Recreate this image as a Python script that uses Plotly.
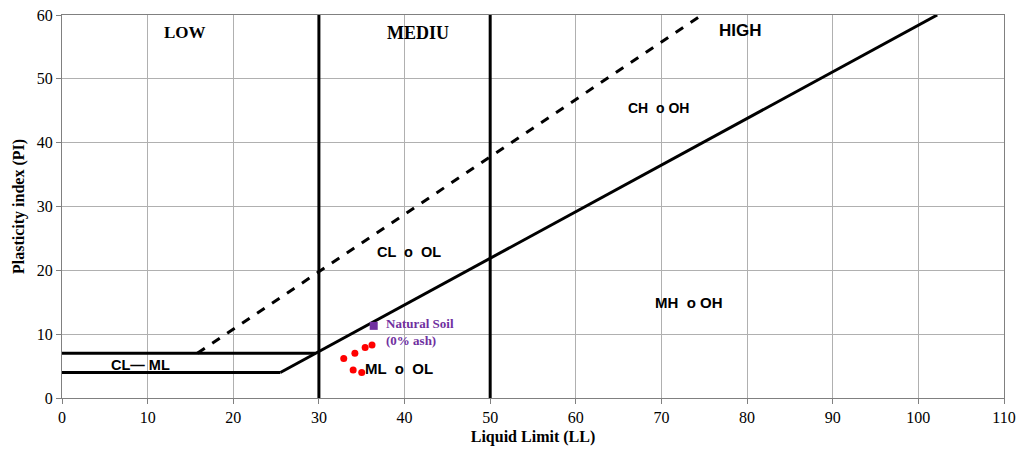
import plotly.graph_objects as go

# Classification lines
a_line_x = [25.5, 102.2]
a_line_y = [4, 60]
u_line_x = [15.8, 74.7]
u_line_y = [7, 60]
h4_x = [0, 25.5]
h4_y = [4, 4]
h7_x = [0, 29.6]
h7_y = [7, 7]
v30_x = [30, 30]
v50_x = [50, 50]
v_y = [0, 60]

# Samples
samples_ll = [32.9, 34.2, 35.4, 36.2, 34.0, 35.0]
samples_pi = [6.2, 7.0, 7.9, 8.3, 4.4, 4.0]
natural_ll = [36.4]
natural_pi = [11.3]

x_ticks = list(range(0, 111, 10))
y_ticks = list(range(0, 61, 10))

fig = go.Figure()
for xs, ys, dash in [(a_line_x, a_line_y, "solid"), (u_line_x, u_line_y, "dash"),
                     (h4_x, h4_y, "solid"), (h7_x, h7_y, "solid"),
                     (v30_x, v_y, "solid"), (v50_x, v_y, "solid")]:
    fig.add_trace(go.Scatter(x=xs, y=ys, mode="lines",
                             line=dict(color="black", width=3, dash=dash),
                             showlegend=False, hoverinfo="skip"))

fig.add_trace(go.Scatter(x=samples_ll, y=samples_pi, mode="markers",
                         marker=dict(color="red", size=7), showlegend=False))
fig.add_trace(go.Scatter(x=natural_ll, y=natural_pi, mode="markers",
                         marker=dict(color="#7030A0", size=8, symbol="square"), showlegend=False))

serif = "Liberation Serif"
sans = "Liberation Sans"
annotations = [
    dict(x=14.4, y=57.2, text="<b>LOW</b>", font=dict(family=serif, size=17, color="black")),
    dict(x=41.6, y=57.2, text="<b>MEDIU</b>", font=dict(family=serif, size=18, color="black")),
    dict(x=79.2, y=57.6, text="<b>HIGH</b>", font=dict(family=sans, size=17, color="black")),
    dict(x=69.6, y=45.4, text="<b>CH  o OH</b>", font=dict(family=sans, size=14, color="black")),
    dict(x=40.5, y=22.9, text="<b>CL  o  OL</b>", font=dict(family=sans, size=14.5, color="black")),
    dict(x=73.2, y=14.9, text="<b>MH  o OH</b>", font=dict(family=sans, size=15, color="black")),
    dict(x=39.3, y=4.7, text="<b>ML  o  OL</b>", font=dict(family=sans, size=15, color="black")),
    dict(x=9.2, y=5.2, text="<b>CL— ML</b>", font=dict(family=sans, size=14.5, color="black")),
    dict(x=37.55, y=10.3, text="<b>Natural Soil<br>(0% ash)</b>", xanchor="left", align="left",
         font=dict(family=serif, size=13, color="#7030A0")),
]
for a in annotations:
    a.setdefault("xanchor", "center")
    fig.add_annotation(showarrow=False, yanchor="middle", **a)

fig.update_layout(
    width=1021, height=455,
    margin=dict(l=62, r=17, t=15, b=57, autoexpand=False),
    plot_bgcolor="white", paper_bgcolor="white",
    xaxis=dict(range=[0, 110], tickvals=x_ticks, showgrid=True, gridcolor="#b0b0b0", gridwidth=1,
               showline=True, linecolor="#808080", mirror=True, ticks="outside", ticklen=5,
               tickcolor="#808080", zeroline=False, automargin=False,
               tickfont=dict(family=serif, size=16, color="black"),
               title=dict(text="<b>Liquid Limit (LL)</b>", font=dict(family=serif, size=16, color="black"), standoff=5)),
    yaxis=dict(range=[0, 60], tickvals=y_ticks, showgrid=True, gridcolor="#b0b0b0", gridwidth=1,
               showline=True, linecolor="#808080", mirror=True, ticks="outside", ticklen=5,
               tickcolor="#808080", zeroline=False, automargin=False,
               tickfont=dict(family=serif, size=16, color="black"),
               title=dict(text="<b>Plasticity index (PI)</b>", font=dict(family=serif, size=16, color="black"), standoff=8)),
)
fig.write_html("out.html")
